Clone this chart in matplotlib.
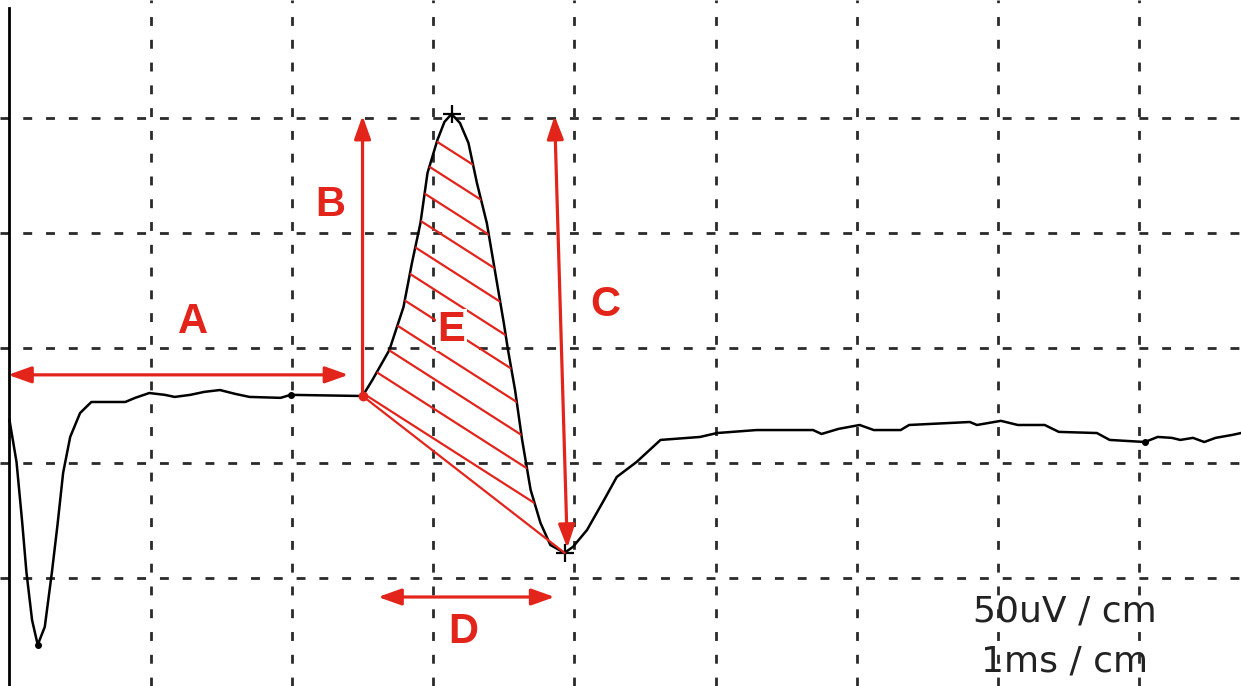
import matplotlib
matplotlib.use('Agg')
import matplotlib.pyplot as plt
from matplotlib.patches import Polygon
import numpy as np

# Trace: time (ms) and voltage (uV)
t_ms = [0.00, 0.05, 0.09, 0.12, 0.16, 0.20, 0.25, 0.30, 0.34, 0.38, 0.43, 0.50,
        0.58, 0.82, 0.89, 0.99, 1.10, 1.17, 1.28, 1.38, 1.49, 1.60, 1.70, 1.92,
        1.99, 2.50, 2.57, 2.69, 2.79, 2.85, 2.91, 2.96, 3.03, 3.08, 3.13, 3.19,
        3.25, 3.31, 3.38, 3.44, 3.50, 3.53, 3.58, 3.63, 3.69, 3.76, 3.83, 3.93,
        3.99, 4.09, 4.21, 4.30, 4.44, 4.61, 4.89, 5.01, 5.29, 5.69, 5.75, 5.87,
        6.02, 6.12, 6.31, 6.37, 6.80, 6.85, 7.02, 7.14, 7.33, 7.43, 7.70, 7.79,
        8.04, 8.13, 8.23, 8.29, 8.38, 8.46, 8.54, 8.66, 8.72]
v_uv = [18.7, 0.4, -25.7, -47.4, -68.3, -79.1, -71.3, -47.8, -27.0, -4.3, 11.3, 21.7,
        26.5, 26.5, 28.3, 30.4, 29.6, 28.7, 29.6, 30.9, 31.7, 30.0, 28.7, 28.3,
        29.6, 29.1, 36.1, 49.1, 67.8, 87.0, 104.3, 126.1, 140.4, 148.3, 151.7, 147.8,
        139.1, 121.7, 104.3, 82.6, 60.9, 49.1, 31.7, 10.0, -11.7, -26.1, -35.7, -39.1,
        -36.5, -29.1, -16.1, -6.1, 0.4, 10.0, 11.3, 13.0, 14.3, 14.3, 12.6, 14.8,
        16.5, 14.3, 14.3, 16.5, 17.8, 16.5, 18.3, 16.5, 16.5, 13.5, 13.0, 10.0,
        9.1, 11.3, 10.9, 10.0, 10.9, 9.1, 10.9, 12.2, 13.0]

onset_i = 25     # start of the response
peak_i = 34
trough_i = 47
dot_i = [5, 24, 72]

# Measurements
a_level = 38.3            # height of latency arrow
b_top = 151.0
c_top, c_bottom = 151.0, -37.0
c_x = (3.86, 3.95)
d_range = (2.61, 3.86)
d_level = -58.3

labels = ['A', 'B', 'C', 'D', 'E']
label_pos = [(1.30, 61.3), (2.27, 112.2), (4.22, 68.7), (3.21, -73.5), (3.13, 57.8)]
scale_text = ['50uV / cm', '1ms / cm']

red = '#e3241b'
t = np.array(t_ms)
v = np.array(v_uv)

fig = plt.figure(figsize=(12.41, 6.86), dpi=100)
ax = fig.add_axes([0, 0, 1, 1])
ax.set_xlim(-0.067, 8.72)
ax.set_ylim(-97.0, 201.3)
ax.axis('off')

# dashed grid, 1 ms and 50 uV per division
for gx in range(1, 9):
    ax.axvline(gx, color='#2a2a2a', lw=2.0, dashes=(3.2, 5.0), zorder=1)
for gy in range(-50, 151, 50):
    ax.axhline(gy, color='#2a2a2a', lw=2.0, dashes=(3.2, 5.0), zorder=1)

# left axis line
ax.plot([0, 0], [-97.0, 197.8], color='black', lw=2.0, zorder=2)

# trace
ax.plot(t, v, color='black', lw=1.8, zorder=3)
ax.plot(t[dot_i], v[dot_i], 'o', color='black', ms=4, zorder=3)
ax.plot(t[[peak_i, trough_i]], v[[peak_i, trough_i]], '+', color='black',
        ms=13, mew=1.6, zorder=3)

# hatched area between onset and trough
region = np.column_stack([t[onset_i:trough_i + 1], v[onset_i:trough_i + 1]])
clip = Polygon(region, closed=True, facecolor='none', edgecolor='none')
ax.add_patch(clip)
slope = -39.3
xs = np.array([2.3, 4.2])
for k in range(11):
    b = 30.4 + 13.0 * k
    ln, = ax.plot(xs, b + slope * (xs - 2.5), color=red, lw=1.6, zorder=4)
    ln.set_clip_path(clip)
ax.plot(t[[onset_i, trough_i]], v[[onset_i, trough_i]], color=red, lw=1.6, zorder=4)

# arrows
head = '<|-|>,head_length=0.7,head_width=0.25'
props = dict(arrowstyle=head, color=red, lw=2.3, mutation_scale=20,
             shrinkA=0, shrinkB=0)
ax.annotate('', xy=(-0.01, a_level), xytext=(2.40, a_level), arrowprops=props, zorder=5)
ax.annotate('', xy=(c_x[0], c_top), xytext=(c_x[1], c_bottom), arrowprops=props, zorder=5)
ax.annotate('', xy=(d_range[0], d_level), xytext=(d_range[1], d_level),
            arrowprops=props, zorder=5)
single = dict(props, arrowstyle='-|>,head_length=0.7,head_width=0.25')
ax.annotate('', xy=(t[onset_i], b_top), xytext=(t[onset_i], v[onset_i]),
            arrowprops=single, zorder=5)
ax.plot(t[onset_i], v[onset_i], 'o', color=red, ms=6, zorder=5)

for lab, (lx, ly) in zip(labels, label_pos):
    bbox = dict(facecolor='white', edgecolor='none', pad=1) if lab == 'E' else None
    ax.text(lx, ly, lab, color=red, fontsize=30, fontweight='bold',
            family='Liberation Sans', ha='center', va='center', zorder=6, bbox=bbox)

ax.text(7.47, -64.8, scale_text[0], fontsize=26, color='#222222',
        family='DejaVu Sans', ha='center', va='center', zorder=6)
ax.text(7.47, -86.5, scale_text[1], fontsize=26, color='#222222',
        family='DejaVu Sans', ha='center', va='center', zorder=6)

fig.savefig('out.png', dpi=100, facecolor='white')
plt.close(fig)
